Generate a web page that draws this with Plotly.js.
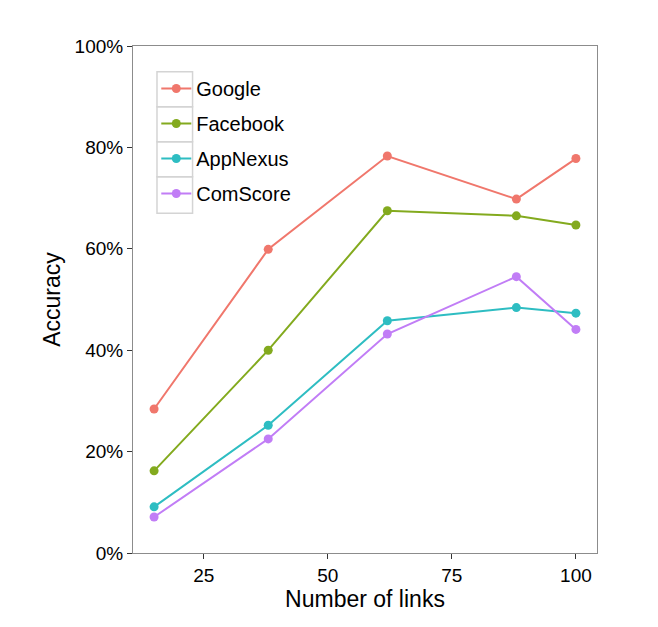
<!DOCTYPE html>
<html>
<head>
<meta charset="utf-8">
<script src="https://cdn.plot.ly/plotly-3.0.1.min.js"></script>
<style>html,body{margin:0;padding:0;background:#fff;}</style>
</head>
<body>
<div id="chart" style="width:658px;height:627px;"></div>
<script>
const links = [15, 38, 62, 88, 100];
const seriesNames = ["Google", "Facebook", "AppNexus", "ComScore"];
const google = [0.284, 0.599, 0.783, 0.698, 0.778];
const facebook = [0.162, 0.400, 0.675, 0.665, 0.647];
const appnexus = [0.091, 0.252, 0.458, 0.484, 0.473];
const comscore = [0.071, 0.225, 0.432, 0.545, 0.441];
const colors = ["#F0776C", "#83AA1E", "#2EBDC2", "#C17DF6"];
const allValues = [google, facebook, appnexus, comscore];

const traces = seriesNames.map((name, i) => ({
  x: links, y: allValues[i], name: name, legendgroup: name,
  type: "scatter", mode: "lines+markers",
  line: {color: colors[i], width: 2},
  marker: {color: colors[i], size: 9}
}));

const plotL = 132.7, plotR = 597, plotT = 46, plotB = 553;
const W = plotR - plotL, H = plotB - plotT;
const px = v => (v - plotL) / W;
const py = v => (plotB - v) / H;
const boxTops = [71.7, 106.7, 141.7, 176.7, 213.3];
const shapes = [];
for (let i = 0; i < 4; i++) {
  shapes.push({type: "rect", xref: "paper", yref: "paper", layer: "below",
    x0: px(156.7), x1: px(192.3), y0: py(boxTops[i + 1]), y1: py(boxTops[i]),
    line: {color: "#d4d4d4", width: 1.5}, fillcolor: "rgba(0,0,0,0)"});
}

const layout = {
  width: 658, height: 627,
  margin: {l: plotL, r: 658 - plotR, t: plotT, b: 627 - plotB},
  paper_bgcolor: "#fff", plot_bgcolor: "#fff",
  font: {family: "Liberation Sans, Arial, sans-serif", color: "#000", size: 19},
  showlegend: true,
  legend: {x: px(156), y: py(69), xanchor: "left", yanchor: "top",
    bgcolor: "rgba(0,0,0,0)", borderwidth: 0, tracegroupgap: 6,
    font: {size: 20, color: "#000"}},
  xaxis: {range: [10.75, 104.25], tickvals: [25, 50, 75, 100], ticktext: ["25", "50", "75", "100"],
    showgrid: false, zeroline: false, showline: true, mirror: true, linecolor: "#8c8c8c", linewidth: 1,
    ticks: "outside", ticklen: 5, tickcolor: "#333", tickwidth: 1,
    tickfont: {size: 19, color: "#000"},
    title: {text: "Number of links", font: {size: 23, color: "#000"}, standoff: 6}},
  yaxis: {range: [0, 1], tickvals: [0, 0.2, 0.4, 0.6, 0.8, 1.0], ticktext: ["0%", "20%", "40%", "60%", "80%", "100%"],
    showgrid: false, zeroline: false, showline: true, mirror: true, linecolor: "#8c8c8c", linewidth: 1,
    ticks: "outside", ticklen: 5, tickcolor: "#333", tickwidth: 1,
    tickfont: {size: 19, color: "#000"},
    title: {text: "Accuracy", font: {size: 23, color: "#000"}, standoff: 7}},
  shapes: shapes
};
Plotly.newPlot("chart", traces, layout, {displayModeBar: false, staticPlot: true});
</script>
</body>
</html>
